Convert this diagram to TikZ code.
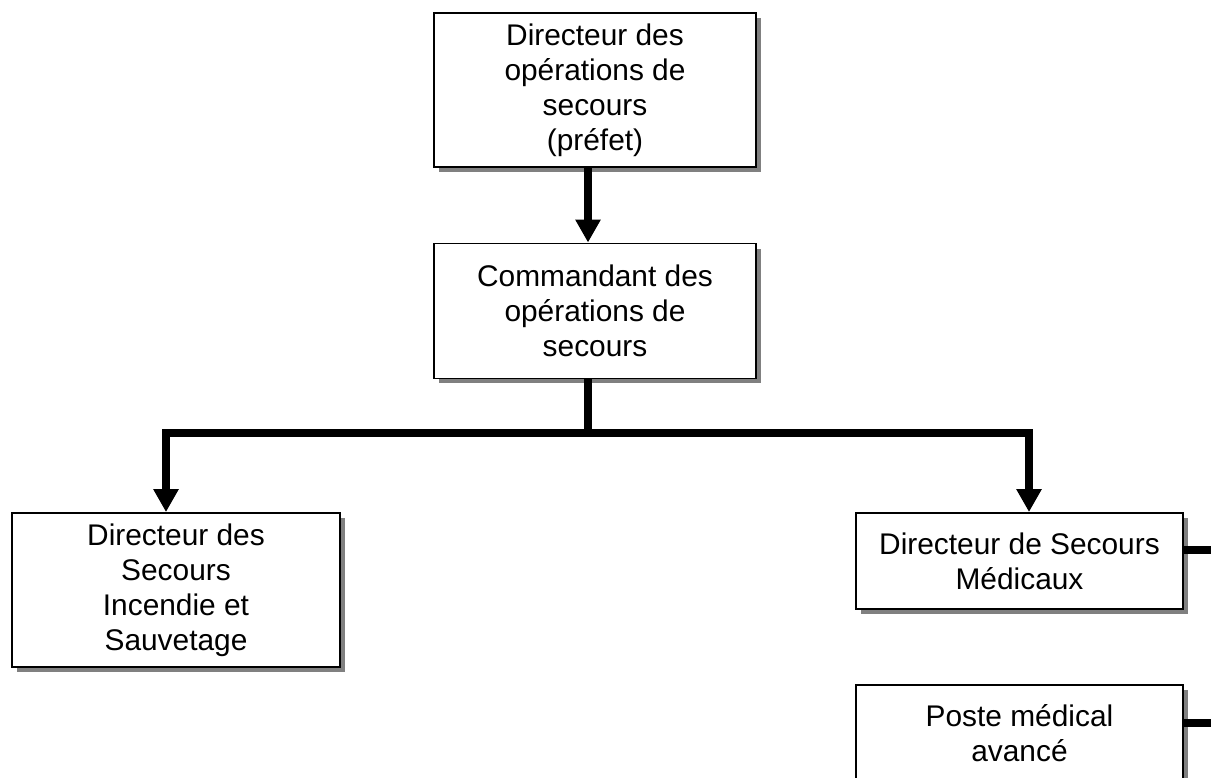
\documentclass[tikz,border=0pt]{standalone}
\usepackage{fontspec}
\setmainfont{Liberation Sans}
\usetikzlibrary{arrows.meta, shadows}

\tikzset{
  box/.style={draw, line width=1.1pt, fill=white, align=center, inner sep=0pt,
    font=\fontsize{17}{20}\selectfont,
    drop shadow={shadow xshift=0.1cm, shadow yshift=-0.1cm, fill=gray!100!white, opacity=1}},
  link/.style={line width=4.3pt},
  arrow/.style={link, -{Triangle[width=0.48cm, length=0.46cm]}}
}

\begin{document}
\begin{tikzpicture}[x=0.02cm, y=-0.02cm]
    \fill[white] (0,0) rectangle (1211,778);
    \useasboundingbox (0,0) rectangle (1211,778);
    \clip (0,0) rectangle (1211,778);

    % boxes
    \node[box, minimum width=6.44cm, minimum height=3.08cm] (dos) at (595,90)
        {Directeur des\\opérations de\\secours\\(préfet)};
    \node[box, minimum width=6.44cm, minimum height=2.7cm] (cos) at (595,311)
        {Commandant des\\opérations de\\secours};
    \node[box, minimum width=6.56cm, minimum height=3.08cm] (dsis) at (176,590)
        {Directeur des\\Secours\\Incendie et\\Sauvetage};
    \node[box, minimum width=6.54cm, minimum height=1.92cm] (dsm) at (1019.5,561)
        {Directeur de Secours\\Médicaux};
    \node[box, minimum width=6.54cm, minimum height=1.92cm] (pma) at (1019.5,733)
        {Poste médical\\avancé};

    % links
    \coordinate (bus) at (588,433);
    \coordinate (busL) at (166,433);
    \coordinate (busR) at (1029,433);
    \draw[arrow] (dos.south -| bus) -- (cos.north -| bus);
    \draw[link] (cos.south -| bus) -- (bus);
    \draw[arrow] (bus) -| (dsis.north -| busL);
    \draw[arrow] (bus) -| (dsm.north -| busR);

    \coordinate (edgeA) at (1215,550);
    \coordinate (edgeB) at (1215,723);
    \draw[link] (dsm.east |- edgeA) -- (edgeA);
    \draw[link] (pma.east |- edgeB) -- (edgeB);
\end{tikzpicture}
\end{document}
